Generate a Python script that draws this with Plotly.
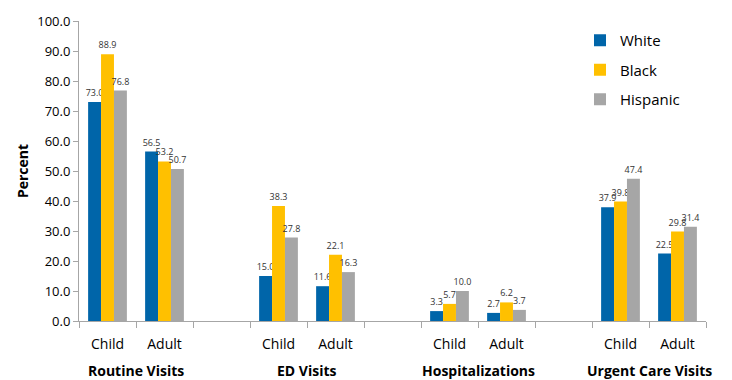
import plotly.graph_objects as go

# Visit categories, each split into Child / Adult
groups = ["Routine Visits", "ED Visits", "Hospitalizations", "Urgent Care Visits"]
ages = ["Child", "Adult"]

white = [73.0, 56.5, 15.0, 11.6, 3.3, 2.7, 37.9, 22.5]
black = [88.9, 53.2, 38.3, 22.1, 5.7, 6.2, 39.8, 29.8]
hispanic = [76.8, 50.7, 27.8, 16.3, 10.0, 3.7, 47.4, 31.4]

series_names = ["White", "Black", "Hispanic"]
series_colors = ["#0065A9", "#FFC000", "#A6A6A6"]

# Each group takes two slots, with an empty slot between groups
xpos = []
labels = []
for gi, _ in enumerate(groups):
    for ai, age in enumerate(ages):
        xpos.append(gi * 3 + ai)
        labels.append(age)
n_slots = len(groups) * 3 - 1
boundaries = [i - 0.5 for i in range(n_slots + 1)]

FONT = "Open Sans"
fig = go.Figure()
for name, vals, color in zip(series_names, [white, black, hispanic], series_colors):
    fig.add_trace(go.Bar(
        x=xpos, y=vals, name=name, legendgroup=name,
        marker=dict(color=color, line=dict(width=0)),
        text=[f"{v:.1f}" for v in vals], textposition="outside",
        constraintext="none",
        textfont=dict(size=9, color="#333333", family=FONT),
        cliponaxis=False,
    ))

# Group names under the Child/Adult labels
for gi, g in enumerate(groups):
    fig.add_annotation(
        x=gi * 3 + 0.5, y=0, xref="x", yref="paper", yanchor="middle",
        yshift=-49, text=f"<b>{g}</b>", showarrow=False, borderpad=0,
        font=dict(size=14, color="#000000", family=FONT),
    )

fig.update_layout(
    width=732, height=380,
    margin=dict(l=79, r=26, t=18, b=59),
    plot_bgcolor="white", paper_bgcolor="white",
    barmode="group", bargap=0.32, bargroupgap=0,
    font=dict(family=FONT, color="#1a1a1a"),
    showlegend=True,
    legend=dict(
        x=0.799, y=0.99, xanchor="left", yanchor="top",
        traceorder="grouped", tracegroupgap=7,
        font=dict(size=15, color="#000000", family=FONT),
        itemwidth=30, bgcolor="rgba(0,0,0,0)",
    ),
    xaxis=dict(
        range=[-0.5, n_slots - 0.5],
        tickmode="array", tickvals=xpos, ticktext=labels,
        ticks="outside", ticklen=10, tickcolor="rgba(0,0,0,0)",
        tickfont=dict(size=14, color="#000000", family=FONT),
        showline=True, linecolor="#A6A6A6", linewidth=1,
        showgrid=False, zeroline=False,
        minor=dict(tickmode="array", tickvals=boundaries, ticks="outside",
                   ticklen=6, tickcolor="#A6A6A6", tickwidth=1, showgrid=False),
    ),
    yaxis=dict(
        range=[0, 100], dtick=10, tickformat=".1f",
        ticks="outside", ticklen=5, tickcolor="#A6A6A6",
        tickfont=dict(size=13, color="#000000", family=FONT),
        showline=True, linecolor="#A6A6A6", linewidth=1,
        showgrid=False, zeroline=False,
        title=dict(text="<b>Percent</b>", standoff=5,
                   font=dict(size=14, color="#000000", family=FONT)),
    ),
)

fig.write_html("out.html")
